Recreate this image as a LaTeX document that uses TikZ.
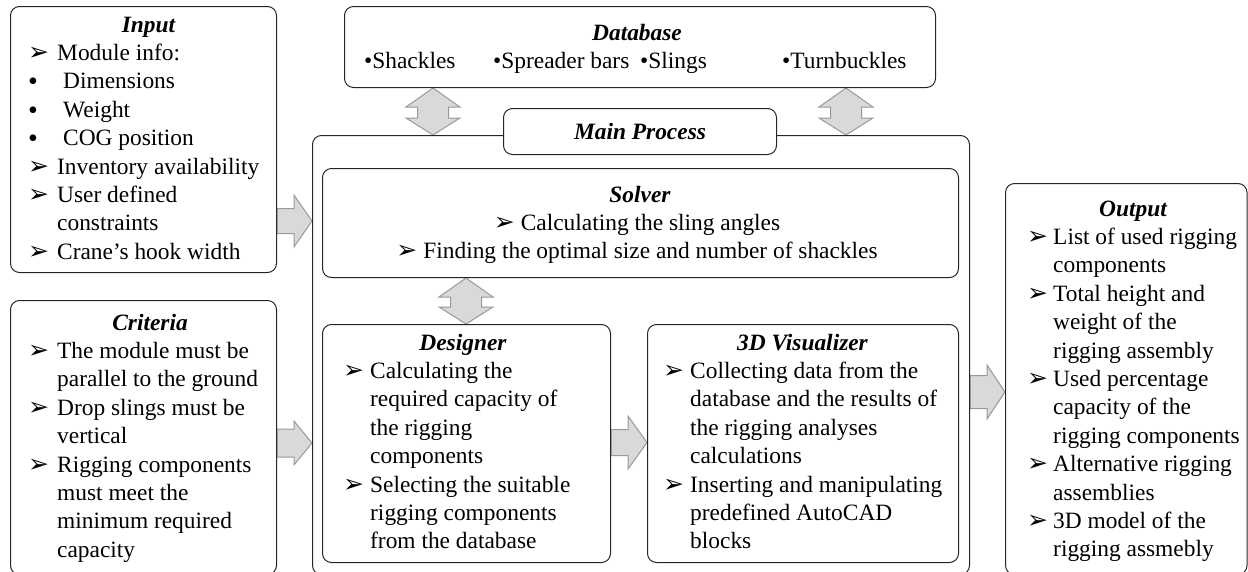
\documentclass[tikz,border=0pt]{standalone}
\usepackage{fontspec}
\setmainfont{Liberation Serif}
\newfontfamily\djv{DejaVu Sans}
\usetikzlibrary{calc,backgrounds}
\newcommand\ar[1][27pt]{\makebox[#1][l]{\djv\fontsize{25}{18}\selectfont ➢}}
\newcommand\ind[1][27pt]{\hspace*{#1}}
\newcommand\bul{\makebox[35pt][l]{\smash{\raisebox{-2pt}{\fontsize{28}{18}\selectfont •}}}}
\newcommand\hblk[6]{%
  \coordinate (hy) at (0,#3);
  \coordinate (hs) at (#1.east |- hy);
  \coordinate (ht) at (#2.west |- hy);
  \draw[blk] ($(hs)+(0,-#5)$) -- ($(hs)+(#4,-#5)$) -- ($(hs)+(#4,-#6)$) -- (ht)
    -- ($(hs)+(#4,#6)$) -- ($(hs)+(#4,#5)$) -- ($(hs)+(0,#5)$) -- cycle;}
\newcommand\vblk[3]{%
  \coordinate (vx) at (#3,0);
  \coordinate (vs) at (#1.south -| vx);
  \coordinate (ve) at (#2.north -| vx);
  \draw[blk] (vs) -- ($(vs)+(27,19)$) -- ($(vs)+(15.5,19)$) -- ($(ve)+(15.5,-17)$)
    -- ($(ve)+(27,-17)$) -- (ve) -- ($(ve)+(-27,-17)$) -- ($(ve)+(-15.5,-17)$)
    -- ($(vs)+(-15.5,19)$) -- ($(vs)+(-27,19)$) -- cycle;}
\begin{document}
\begin{tikzpicture}[x=1pt,y=-1pt,
  font=\fontsize{23.4}{28.4}\selectfont,
  box/.style={draw=black!85, line width=1pt, rounded corners=9pt, inner sep=0pt, anchor=north west},
  blk/.style={draw=black!40, fill=black!15, line width=1pt, line join=miter},
  ttl/.style={font=\fontsize{23.4}{28.4}\selectfont\bfseries\itshape, anchor=base, inner sep=0pt},
  txt/.style={align=left, anchor=base west, inner sep=0pt},
  ctxt/.style={align=center, anchor=base, inner sep=0pt}]
\useasboundingbox (0,0) rectangle (1248,571);

% boxes
\node[box, minimum width=266pt, minimum height=266pt] (input) at (10,6) {};
\node[box, minimum width=266pt, minimum height=274pt] (criteria) at (10,300) {};
\node[box, minimum width=591pt, minimum height=81pt] (database) at (344,6) {};
\node[box, minimum width=657pt, minimum height=439pt] (main) at (312,135) {};
\node[box, minimum width=273pt, minimum height=46pt, fill=white,
      font=\fontsize{23.4}{28.4}\selectfont\bfseries\itshape] (mplabel) at (503,108) {Main Process};
\node[box, minimum width=636pt, minimum height=109pt] (solver) at (322,168) {};
\node[box, minimum width=288pt, minimum height=238pt] (designer) at (322,324) {};
\node[box, minimum width=311pt, minimum height=238pt] (visual) at (647,324) {};
\node[box, minimum width=241.5pt, minimum height=391pt] (output) at (1005,183) {};

% block arrows
\begin{scope}[on background layer]
  \hblk{input}{main}{221}{17}{12.5}{26}
  \hblk{criteria}{main}{443}{17}{14}{22}
  \hblk{designer}{visual}{442.5}{17}{13}{26.5}
  \hblk{main}{output}{392}{17}{16.5}{27}
  \vblk{database}{main}{433}
  \vblk{database}{main}{846}
  \vblk{solver}{designer}{466}
\end{scope}

% Input (base anchor = last line)
\node[ttl] (inputT) at (148.5,32) {Input};
\node[txt] (inputL) at (28,259.2) {\ar[29pt]Module info:\\
\bul Dimensions\\
\bul Weight\\
\bul COG position\\
\ar[29pt]Inventory availability\\
\ar[29pt]User defined\\
\ind[29pt]constraints\\
\ar[29pt]Crane’s hook width};

% Criteria
\node[ttl] (critT) at (150,330) {Criteria};
\node[txt] (critL) at (28,557.2) {\ar[29pt]The module must be\\
\ind[29pt]parallel to the ground\\
\ar[29pt]Drop slings must be\\
\ind[29pt]vertical\\
\ar[29pt]Rigging components\\
\ind[29pt]must meet the\\
\ind[29pt]minimum required\\
\ind[29pt]capacity};

% Database
\node[ttl] (dbT) at (637,40) {Database};
\node[txt] (db1) at (364,68) {•Shackles};
\node[txt] (db2) at (493,68) {•Spreader bars};
\node[txt] (db3) at (640,68) {•Slings};
\node[txt] (db4) at (782,68) {•Turnbuckles};

% Solver
\node[ttl] (solT) at (640,202) {Solver};
\node[ctxt] (solL) at (637,258.8) {\ar Calculating the sling angles\\
\ar Finding the optimal size and number of shackles};

% Designer
\node[ttl] (desT) at (463,350) {Designer};
\node[txt] (desL) at (343,548.8) {\ar Calculating the\\
\ind required capacity of\\
\ind the rigging\\
\ind components\\
\ar Selecting the suitable\\
\ind rigging components\\
\ind from the database};

% 3D Visualizer
\node[ttl] (visT) at (802.5,350) {3D Visualizer};
\node[txt] (visL) at (663,548.8) {\ar Collecting data from the\\
\ind database and the results of\\
\ind the rigging analyses\\
\ind calculations\\
\ar Inserting and manipulating\\
\ind predefined AutoCAD\\
\ind blocks};

% Output
\node[ttl] (outT) at (1133,216) {Output};
\node[txt] (outL) at (1027,556.8) {\ar[26pt]List of used rigging\\
\ind[26pt]components\\
\ar[26pt]Total height and\\
\ind[26pt]weight of the\\
\ind[26pt]rigging assembly\\
\ar[26pt]Used percentage\\
\ind[26pt]capacity of the\\
\ind[26pt]rigging components\\
\ar[26pt]Alternative rigging\\
\ind[26pt]assemblies\\
\ar[26pt]3D model of the\\
\ind[26pt]rigging assmebly};
\end{tikzpicture}
\end{document}
